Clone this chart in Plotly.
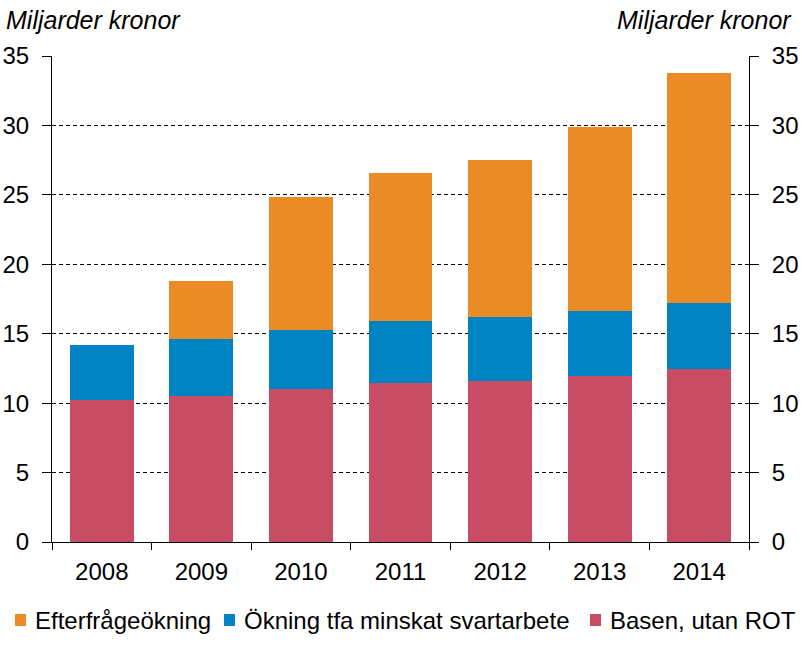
import plotly.graph_objects as go

years = ["2008", "2009", "2010", "2011", "2012", "2013", "2014"]
basen = [10.24, 10.55, 11.01, 11.47, 11.61, 11.97, 12.43]
svartarbete = [3.96, 4.09, 4.27, 4.46, 4.61, 4.68, 4.75]
efterfragan = [0.0, 4.17, 9.59, 10.66, 11.30, 13.25, 16.62]
yticks = [0, 5, 10, 15, 20, 25, 30, 35]
series_names = ["Efterfrågeökning", "Ökning tfa minskat svartarbete", "Basen, utan ROT"]

c_red = "#C94C65"
c_blue = "#0083C3"
c_orange = "#EB8B26"
font = "Liberation Sans, Arial, sans-serif"

W, H = 802, 658
L, R, T, B = 52, 53, 56, 116
PW, PH = W - L - R, H - T - B


def px_x(px):
    return (px - L) / PW


def px_y(py):
    return (H - B - py) / PH


fig = go.Figure()
fig.add_trace(go.Bar(x=years, y=basen, name=series_names[2], marker=dict(color=c_red, line=dict(width=0))))
fig.add_trace(go.Bar(x=years, y=svartarbete, name=series_names[1], marker=dict(color=c_blue, line=dict(width=0))))
fig.add_trace(go.Bar(x=years, y=efterfragan, name=series_names[0], marker=dict(color=c_orange, line=dict(width=0))))
fig.add_trace(go.Scatter(x=years, y=[None] * len(years), yaxis="y2", showlegend=False, hoverinfo="skip", mode="lines"))

axis_common = dict(
    range=[0, 35], tickvals=yticks, showline=True, linecolor="black", linewidth=1,
    ticks="outside", ticklen=9, tickcolor="black", tickfont=dict(family=font, size=24, color="black"),
    zeroline=False, fixedrange=True, automargin=False, ticklabelstandoff=8,
)

# Legend drawn as squares + labels (compact like the reference)
legend_items = [
    (series_names[0], c_orange, 15, 34),
    (series_names[1], c_blue, 224, 243),
    (series_names[2], c_red, 590, 609),
]
shapes = []
annotations = []
for name, col, sq_x, tx_x in legend_items:
    shapes.append(dict(type="rect", xref="paper", yref="paper",
                       x0=px_x(sq_x), x1=px_x(sq_x + 11), y0=px_y(626), y1=px_y(614),
                       fillcolor=col, line=dict(width=0)))
    annotations.append(dict(text=name, xref="paper", yref="paper", x=px_x(tx_x - 1), y=px_y(620),
                            xanchor="left", yanchor="middle", showarrow=False,
                            font=dict(family=font, size=24, color="black")))

annotations.append(dict(text="<i>Miljarder kronor</i>", xref="paper", yref="paper", x=px_x(4), y=px_y(20),
                        xanchor="left", yanchor="middle", showarrow=False,
                        font=dict(family=font, size=25, color="black")))
annotations.append(dict(text="<i>Miljarder kronor</i>", xref="paper", yref="paper", x=px_x(794), y=px_y(20),
                        xanchor="right", yanchor="middle", showarrow=False,
                        font=dict(family=font, size=25, color="black")))

fig.update_layout(
    barmode="stack",
    bargap=0.36,
    width=W, height=H,
    margin=dict(l=L, r=R, t=T, b=B, autoexpand=False),
    paper_bgcolor="white", plot_bgcolor="white",
    font=dict(family=font, size=24, color="black"),
    xaxis=dict(
        showline=True, linecolor="black", linewidth=1, ticks="outside", ticklen=7,
        tickson="boundaries", tickcolor="black", showgrid=False, automargin=False,
        tickfont=dict(family=font, size=24, color="black"), ticklabelstandoff=8,
        fixedrange=True,
    ),
    yaxis=dict(**axis_common, showgrid=True, gridcolor="black", gridwidth=1, griddash="4px,3px"),
    yaxis2=dict(**axis_common, overlaying="y", side="right", showgrid=False),
    showlegend=False,
    shapes=shapes,
    annotations=annotations,
)

fig.write_html("out.html", config={"displayModeBar": False},
               post_script="document.body.style.margin='0';document.body.style.padding='0';")
